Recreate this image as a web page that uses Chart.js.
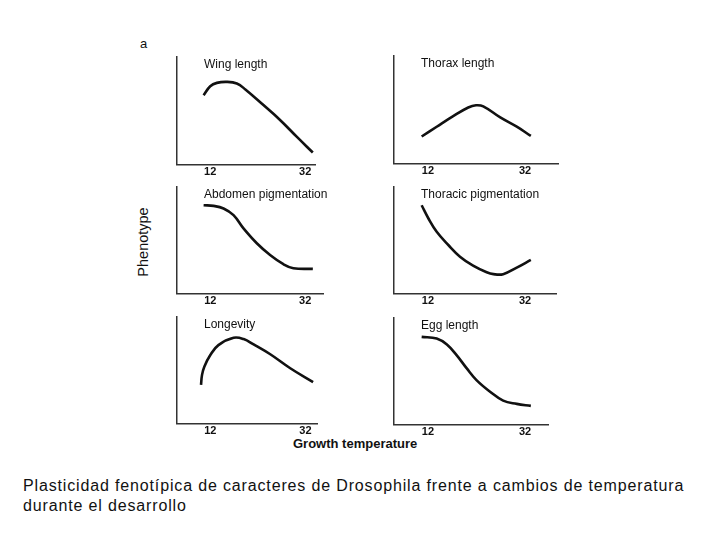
<!DOCTYPE html>
<html>
<head>
<meta charset="utf-8">
<script src="https://cdn.jsdelivr.net/npm/chart.js@4"></script>
<style>
  body { margin: 0; background: #fff; }
  #page { position: relative; width: 720px; height: 540px; overflow: hidden; font-family: "Liberation Sans", Arial, sans-serif; color: #111; }
  canvas { position: absolute; }
  .txt { position: absolute; white-space: nowrap; }
</style>
</head>
<body>
<div id="page">
  <div class="txt" style="left:140px;top:36px;font-size:13px;">a</div>
  <div class="txt" style="left:143px;top:242px;font-size:14.5px;transform:translate(-50%,-50%) rotate(-90deg);">Phenotype</div>
  <div class="txt" style="left:293px;top:436px;font-size:13px;font-weight:bold;">Growth temperature</div>
  <div class="txt" style="left:23px;top:476px;font-size:16px;line-height:20px;letter-spacing:0.85px;">Plasticidad fenotípica de caracteres de Drosophila frente a cambios de temperatura<br>durante el desarrollo</div>
</div>
<script>
// x ticks shown on every panel
const xTicks = [12, 32];

// growth temperature (°C) and phenotype (relative units, 0-100)
const wingTemp = [10.6, 12.0, 13.4, 15.5, 17.6, 19.4, 23.2, 26.7, 30.2, 33.6];
const wingVal  = [64.6, 72.9, 76.0, 76.9, 75.4, 69.9, 55.4, 41.6, 26.1, 11.4];

const thoraxTemp = [10.7, 13.8, 17.2, 20.3, 21.9, 23.4, 26.9, 30.3, 33.2];
const thoraxVal  = [25.3, 34.4, 44.2, 52.2, 54.3, 53.3, 43.0, 34.4, 25.9];

const abdomenTemp = [10.6, 12.7, 14.8, 16.9, 19.0, 21.8, 24.6, 27.4, 29.5, 33.6];
const abdomenVal  = [82.9, 82.3, 79.9, 73.6, 61.2, 47.3, 36.3, 27.7, 24.0, 23.3];

const thoracicTemp = [10.7, 12.1, 13.8, 16.2, 18.6, 21.3, 24.1, 25.5, 27.5, 30.3, 33.2];
const thoracicVal  = [82.9, 70.5, 58.1, 45.7, 34.8, 26.4, 20.2, 18.4, 18.4, 24.5, 31.7];

const longevityTemp = [10.05, 10.26, 10.74, 12.0, 13.7, 16.9, 19.0, 21.1, 24.6, 28.8, 33.6];
const longevityVal  = [36.5, 45.8, 53.5, 64.4, 73.7, 80.5, 79.3, 74.3, 65.1, 52.0, 39.0];

const eggTemp = [10.7, 13.8, 15.9, 17.9, 20.0, 22.0, 24.8, 27.5, 30.3, 33.2];
const eggVal  = [82.3, 80.8, 75.2, 65.2, 52.8, 41.9, 31.0, 22.6, 19.6, 17.7];

// axis boxes in page pixels and x ranges
const panels = [
  { title: "Wing length",           temps: wingTemp,      vals: wingVal,      L: 176.7, T: 56.7,  R: 315, B: 165,   xmin: 5, xmax: 34.06 },
  { title: "Thorax length",         temps: thoraxTemp,    vals: thoraxVal,    L: 394,   T: 56,    R: 558, B: 164.3, xmin: 5, xmax: 38.8 },
  { title: "Abdomen pigmentation",  temps: abdomenTemp,   vals: abdomenVal,   L: 176.7, T: 186.7, R: 323, B: 294,   xmin: 5, xmax: 35.74 },
  { title: "Thoracic pigmentation", temps: thoracicTemp,  vals: thoracicVal,  L: 394,   T: 186.7, R: 556, B: 294,   xmin: 5, xmax: 38.39 },
  { title: "Longevity",             temps: longevityTemp, vals: longevityVal, L: 176.7, T: 316.7, R: 316.7, B: 424.3, xmin: 5, xmax: 34.42 },
  { title: "Egg length",            temps: eggTemp,       vals: eggVal,       L: 394,   T: 317.7, R: 548, B: 425,   xmin: 5, xmax: 36.74 }
];

const FONT = "'Liberation Sans', Arial, sans-serif";
const padL = 6, padT = 4, padR = 6, padB = 4;
const xAxisH = 1 + 11 * 1.2;

// draws the panel name inside the plot area
const panelTitle = {
  id: "panelTitle",
  afterDraw(chart, args, opts) {
    const ctx = chart.ctx, a = chart.chartArea;
    ctx.save();
    ctx.font = "12px " + FONT;
    ctx.fillStyle = "#111";
    ctx.textBaseline = "alphabetic";
    ctx.fillText(opts.text, a.left + 27, a.top + 10.5);
    ctx.restore();
  }
};

const page = document.getElementById("page");

panels.forEach((p) => {
  const cv = document.createElement("canvas");
  const w = (p.R - p.L) + padL + padR;
  const h = (p.B - p.T) + padT + padB + xAxisH;
  cv.width = Math.round(w);
  cv.height = Math.round(h);
  cv.style.left = (p.L - padL) + "px";
  cv.style.top = (p.T - padT) + "px";
  cv.style.width = Math.round(w) + "px";
  cv.style.height = Math.round(h) + "px";
  page.appendChild(cv);

  new Chart(cv, {
    type: "line",
    data: {
      datasets: [{
        data: p.temps.map((t, i) => ({ x: t, y: p.vals[i] })),
        borderColor: "#111",
        borderWidth: 2.6,
        pointRadius: 0,
        tension: 0.4,
        fill: false
      }]
    },
    options: {
      responsive: false,
      animation: false,
      layout: { padding: { left: padL, top: padT, right: padR, bottom: padB } },
      plugins: {
        legend: { display: false },
        tooltip: { enabled: false },
        panelTitle: { text: p.title }
      },
      scales: {
        x: {
          type: "linear",
          min: p.xmin,
          max: p.xmax,
          afterBuildTicks: (scale) => { scale.ticks = xTicks.map((v) => ({ value: v })); },
          grid: { display: false, drawTicks: false },
          border: { display: true, color: "#333", width: 1.5 },
          ticks: { padding: 1, color: "#111", font: { family: FONT, size: 11, weight: "bold" }, maxRotation: 0 }
        },
        y: {
          min: 0,
          max: 100,
          grid: { display: false, drawTicks: false },
          border: { display: true, color: "#333", width: 1.5 },
          ticks: { display: false }
        }
      }
    },
    plugins: [panelTitle]
  });
});
</script>
</body>
</html>
